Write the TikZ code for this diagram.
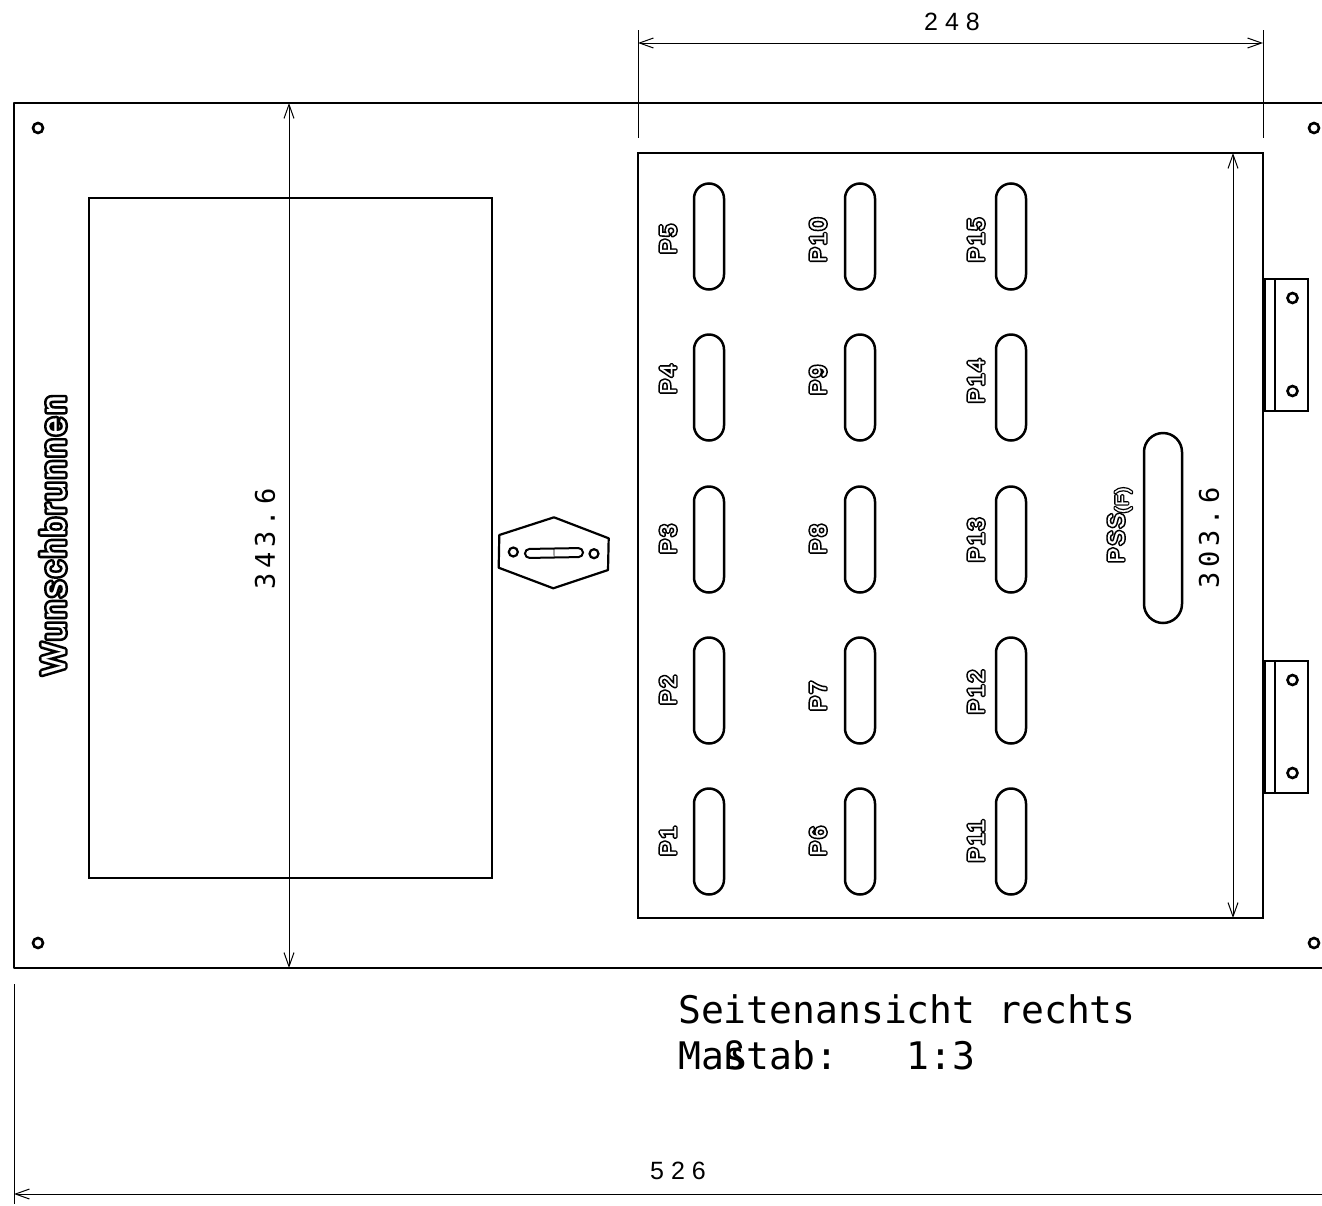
\documentclass[tikz,border=0pt]{standalone}
\usepackage{fontspec}
\usetikzlibrary{arrows.meta}
\newfontfamily\monofont{DejaVu Sans Mono}
\newfontfamily\dimfont[LetterSpace=28]{Liberation Sans}
\newfontfamily\sidefont[LetterSpace=18]{DejaVu Sans Mono}
\newfontfamily\cutfont[LetterSpace=8]{Liberation Sans}
\newcommand{\cutout}[2][3.4]{\rlap{\special{pdf:code q 1 J 1 j 0 G 0 g 2 Tr #1 w}#2\special{pdf:code 0 Tr Q}}\special{pdf:code q 1 g 1 G 2 Tr .1 w}#2\special{pdf:code 0 Tr Q}}
\tikzset{
  x=1pt,
  y=-1pt,
  edge/.style={line width=2.9pt, line join=round},
  slot/.style={
    rounded corners=15pt,
    draw,
    line width=2.5pt,
    minimum width=30pt,
    minimum height=106pt,
    inner sep=0pt,
    outer sep=0pt,
  },
  hole/.style={
    circle,
    draw,
    line width=2.6pt,
    minimum size=10pt,
    inner sep=0pt,
  },
  hinge/.style={
    draw,
    line width=2.2pt,
    minimum width=43pt,
    minimum height=132pt,
    inner sep=0pt,
    outer sep=0pt,
  },
  dim/.style={
    line width=1pt,
    {Straight Barb[length=14pt,width=10pt]}-{Straight Barb[length=14pt,width=10pt]},
  },
  leader/.style={line width=1pt},
  tag/.style={inner sep=0pt, rotate=90, anchor=base, font=\cutfont\fontsize{23}{23}\selectfont},
  dimtext/.style={inner sep=0pt, font=\dimfont\fontsize{25}{25}\selectfont},
  sidetext/.style={inner sep=0pt, rotate=90, font=\sidefont\fontsize{27}{27}\selectfont},
  title/.style={inner sep=0pt, anchor=base west, font=\monofont\fontsize{38}{38}\selectfont},
}

\begin{document}
\begin{tikzpicture}
      \useasboundingbox (0,0) rectangle (1322,1205);

      % plate
      \draw[edge] (1322,103) -- (14,103) -- (14,968) -- (1322,968);
      \node[hole] (h1) at (38,128) {};
      \node[hole] (h2) at (1314,128) {};
      \node[hole] (h3) at (38,943) {};
      \node[hole] (h4) at (1314,943) {};

      % door
      \node[draw, line width=2.9pt, minimum width=403pt, minimum height=680pt, inner sep=0pt, outer sep=0pt] (door) at (290.5,538) {};
      \node[tag, font=\cutfont\fontsize{34}{34}\selectfont] (name) at (65,535) {\cutout[5.4]{Wunschbrunnen}};

      % latch
      \draw[line width=2.2pt, line join=round] (499.3,535) -- (554,517.3) -- (608.7,538.3) -- (608,570) -- (553.3,588.3) -- (498.7,567.7) -- cycle;
      \node[hole, minimum size=9pt, line width=2.2pt] (l1) at (513.3,552) {};
      \node[hole, minimum size=9pt, line width=2.2pt] (l2) at (594,553.7) {};
      \node[slot, rotate=-89, minimum width=9pt, minimum height=58pt, rounded corners=4.5pt, line width=2pt] (lslot) at (554,553) {};
      \draw[line width=.6pt] (lslot.east) -- (lslot.west);

      % panel
      \node[draw, line width=2.9pt, minimum width=625pt, minimum height=765pt, inner sep=0pt, outer sep=0pt] (panel) at (950.5,535.5) {};

      \node[slot] (p5) at (709,236.5) {};
      \node[slot] (p4) at (709,387.5) {};
      \node[slot] (p3) at (709,539.5) {};
      \node[slot] (p2) at (709,690.5) {};
      \node[slot] (p1) at (709,841.5) {};
      \node[slot] (p10) at (860,236.5) {};
      \node[slot] (p9) at (860,387.5) {};
      \node[slot] (p8) at (860,539.5) {};
      \node[slot] (p7) at (860,690.5) {};
      \node[slot] (p6) at (860,841.5) {};
      \node[slot] (p15) at (1011,236.5) {};
      \node[slot] (p14) at (1011,387.5) {};
      \node[slot] (p13) at (1011,539.5) {};
      \node[slot] (p12) at (1011,690.5) {};
      \node[slot] (p11) at (1011,841.5) {};
      \node[slot, minimum width=38pt, minimum height=190pt, rounded corners=19pt] (pss) at (1163,528) {};

      \node[tag] (t5) at (676,239) {\cutout{P5}};
      \node[tag] (t4) at (676,379) {\cutout{P4}};
      \node[tag] (t3) at (676,539) {\cutout{P3}};
      \node[tag] (t2) at (676,690) {\cutout{P2}};
      \node[tag] (t1) at (676,841) {\cutout{P1}};
      \node[tag] (t10) at (826,240) {\cutout{P10}};
      \node[tag] (t9) at (826,380) {\cutout{P9}};
      \node[tag] (t8) at (826,539) {\cutout{P8}};
      \node[tag] (t7) at (826,696) {\cutout{P7}};
      \node[tag] (t6) at (826,841) {\cutout{P6}};
      \node[tag] (t15) at (984,240) {\cutout{P15}};
      \node[tag] (t14) at (984,381) {\cutout{P14}};
      \node[tag] (t13) at (984,540) {\cutout{P13}};
      \node[tag] (t12) at (984,692) {\cutout{P12}};
      \node[tag] (t11) at (984,841) {\cutout{P11}};
      \node[tag, anchor=base west] (tpss) at (1124,563) {\cutout{PSS}\raisebox{-4pt}{\fontsize{18}{18}\selectfont\cutout[2.8]{(F)}}};

      % hinges
      \node[hinge] (b1) at (1286.5,345) {};
      \node[hinge] (b2) at (1286.5,727) {};
      \draw[line width=2pt] (b1.north west) ++(10,0) coordinate (b1a) -- (b1.south west -| b1a);
      \draw[line width=2pt] (b2.north west) ++(10,0) coordinate (b2a) -- (b2.south west -| b2a);
      \node[hole] (b1t) at (1292.5,298) {};
      \node[hole] (b1b) at (1292.5,391) {};
      \node[hole] (b2t) at (1292.5,680) {};
      \node[hole] (b2b) at (1292.5,773) {};

      % dimensions
      \coordinate (a1) at (638,30);
      \coordinate (a2) at (638,138);
      \coordinate (a3) at (1263,30);
      \coordinate (a4) at (1263,138);
      \coordinate (a5) at (638,43);
      \coordinate (a6) at (1263,43);
      \draw[leader] (a1) -- (a2);
      \draw[leader] (a3) -- (a4);
      \draw[dim] (a5) -- (a6);
      \node[dimtext] (d248) at (952,22) {248};

      \coordinate (c1) at (289,103);
      \coordinate (c2) at (289,968);
      \draw[dim] (c1) -- (c2);
      \node[sidetext] (d343) at (265,539) {343.6};

      \coordinate (e1) at (1233,153);
      \coordinate (e2) at (1233,918);
      \draw[dim] (e1) -- (e2);
      \node[sidetext] (d303) at (1209,538) {303.6};

      \coordinate (f1) at (14,984);
      \coordinate (f2) at (14,1204);
      \coordinate (f3) at (14,1194);
      \coordinate (f4) at (1322,1194);
      \draw[leader] (f1) -- (f2);
      \draw[dim, {Straight Barb[length=14pt,width=10pt]}-] (f3) -- (f4);
      \node[dimtext] (d526) at (678,1171) {526};

      % caption
      \node[title] (cap1) at (678,1023) {Seitenansicht rechts};
      \node[title] (cap2) at (678,1069) {Ma\rlap{ß}stab:\ \ \ 1:3};
\end{tikzpicture}
\end{document}
